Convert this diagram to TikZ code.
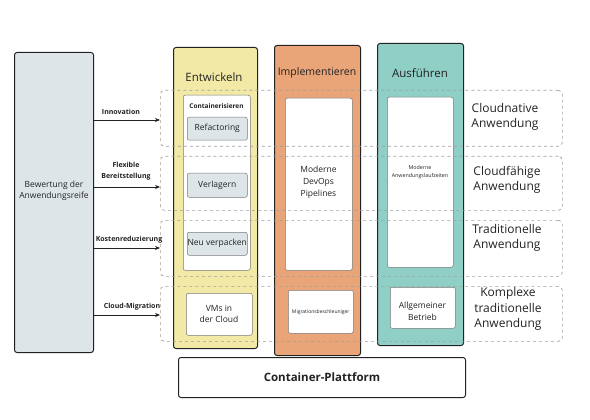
\documentclass[tikz,border=0pt]{standalone}
\usepackage{fontspec}
\setmainfont{Open Sans}
\usetikzlibrary{arrows.meta}
\definecolor{leftfill}{HTML}{DDE5E8}
\definecolor{yel}{HTML}{F2E9A6}
\definecolor{ora}{HTML}{E9A478}
\definecolor{tea}{HTML}{8FCFC6}
\definecolor{dashgray}{HTML}{A0A0A0}
\definecolor{ink}{HTML}{222222}
\begin{document}
\begin{tikzpicture}[x=1pt,y=-1pt,
  sketch/.style={draw=ink, line width=1pt, rounded corners=2.5pt},
  block/.style={sketch, anchor=north west, inner sep=0pt},
  inner/.style={draw=ink!60, line width=0.5pt, rounded corners=2pt, fill=white, anchor=north west, inner sep=0pt},
  chip/.style={draw=ink!60, line width=0.5pt, rounded corners=2pt, fill=leftfill, anchor=north west, inner sep=0pt, text=ink, font=\fontsize{8.5}{10}\selectfont},
  rowbox/.style={draw=dashgray, dashed, line width=0.7pt, rounded corners=4pt, anchor=north west, inner sep=0pt},
  title/.style={font=\fontsize{11.5}{13}\selectfont, text=ink},
  lbl/.style={font=\fontsize{8}{10}\selectfont, text=ink, align=center},
  arrlbl/.style={font=\fontsize{7}{8}\selectfont\bfseries, text=ink, align=center},
  rlbl/.style={font=\fontsize{12}{14.5}\selectfont, text=ink, align=center},
  arr/.style={-{Stealth[length=5pt,width=4pt]}, line width=0.8pt, draw=ink}
]
\useasboundingbox (0,0) rectangle (590,420);

% left assessment box
\node[block, fill=leftfill, minimum width=79pt, minimum height=300pt] (assess) at (14,52) {};
\node[lbl, font=\fontsize{8.5}{11.5}\selectfont] (assesst) at (54,191) {Bewertung der\\Anwendungsreife};

% columns
\node[block, fill=yel, minimum width=84pt, minimum height=301pt] (dev) at (173,47) {};
\node[title] (devt) at (214,77) {Entwickeln};
\node[block, fill=ora, minimum width=86pt, minimum height=310pt] (impl) at (274,45) {};
\node[title, font=\fontsize{10.5}{12}\selectfont] (implt) at (317,73) {Implementieren};
\node[block, fill=tea, minimum width=86pt, minimum height=302pt] (run) at (377,43) {};
\node[title] (runt) at (420,73) {Ausführen};

% Entwickeln contents
\node[inner, minimum width=67pt, minimum height=175pt] (cont) at (183,95) {};
\node[lbl, font=\fontsize{6.5}{7.5}\selectfont\bfseries] (contt) at (216.5,106) {Containerisieren};
\node[chip, minimum width=60pt, minimum height=23pt] (refa) at (187,117) {Refactoring};
\node[chip, minimum width=60pt, minimum height=24pt] (verl) at (187,173) {Verlagern};
\node[chip, minimum width=60pt, minimum height=23pt] (neuv) at (187,232) {Neu verpacken};
\node[inner, minimum width=66pt, minimum height=42pt] (vms) at (186,293) {};
\node[lbl, font=\fontsize{8.5}{11.5}\selectfont] (vmst) at (219,314) {VMs in\\der Cloud};

% Implementieren contents
\node[inner, minimum width=67pt, minimum height=172pt] (devops) at (285,98) {};
\node[lbl, font=\fontsize{8.5}{12}\selectfont] (devopst) at (318.5,182) {Moderne\\DevOps\\Pipelines};
\node[inner, minimum width=65pt, minimum height=43pt, font=\fontsize{5}{6}\selectfont, text=ink] (migb) at (288,290) {Migrationsbeschleuniger};

% Ausfuehren contents
\node[inner, minimum width=66pt, minimum height=170pt] (rt) at (387,97) {};
\node[lbl, font=\fontsize{5.3}{7.5}\selectfont] (rtt) at (420,172) {Moderne\\Anwendungslaufzeiten};
\node[inner, minimum width=65pt, minimum height=41pt] (betr) at (390,287) {};
\node[lbl, font=\fontsize{8.5}{12}\selectfont] (betrt) at (422.5,311) {Allgemeiner\\Betrieb};

% dashed rows
\node[rowbox, minimum width=402pt, minimum height=56pt] (row1) at (160,90) {};
\node[rowbox, minimum width=402pt, minimum height=54pt] (row2) at (160,156) {};
\node[rowbox, minimum width=402pt, minimum height=56pt] (row3) at (160,220) {};
\node[rowbox, minimum width=402pt, minimum height=55pt] (row4) at (160,286) {};

% right labels
\node[rlbl] (l1) at (505,117) {Cloudnative\\Anwendung};
\node[rlbl] (l2) at (507,180) {Cloudfähige\\Anwendung};
\node[rlbl] (l3) at (507,238) {Traditionelle\\Anwendung};
\node[rlbl, font=\fontsize{12}{15.5}\selectfont] (l4) at (508,309) {Komplexe\\traditionelle\\Anwendung};

% arrows
\coordinate (a1) at (93,120);
\coordinate (a2) at (93,187);
\coordinate (a3) at (93,248);
\coordinate (a4) at (93,315);
\draw[arr] (a1) -- (a1 -| row1.west);
\draw[arr] (a2) -- (a2 -| row2.west);
\draw[arr] (a3) -- (a3 -| row3.west);
\draw[arr] (a4) -- (a4 -| row4.west);
\node[arrlbl] (t1) at (121,112) {Innovation};
\node[arrlbl, font=\fontsize{7}{11.5}\selectfont\bfseries] (t2) at (126,171) {Flexible\\Bereitstellung};
\node[arrlbl] (t3) at (129,240) {Kostenreduzierung};
\node[arrlbl] (t4) at (132,307) {Cloud-Migration};

% platform
\node[block, minimum width=287pt, minimum height=40pt, font=\fontsize{11.5}{13}\selectfont\bfseries, text=ink] (plat) at (178,357) {Container-Plattform};
\end{tikzpicture}
\end{document}
